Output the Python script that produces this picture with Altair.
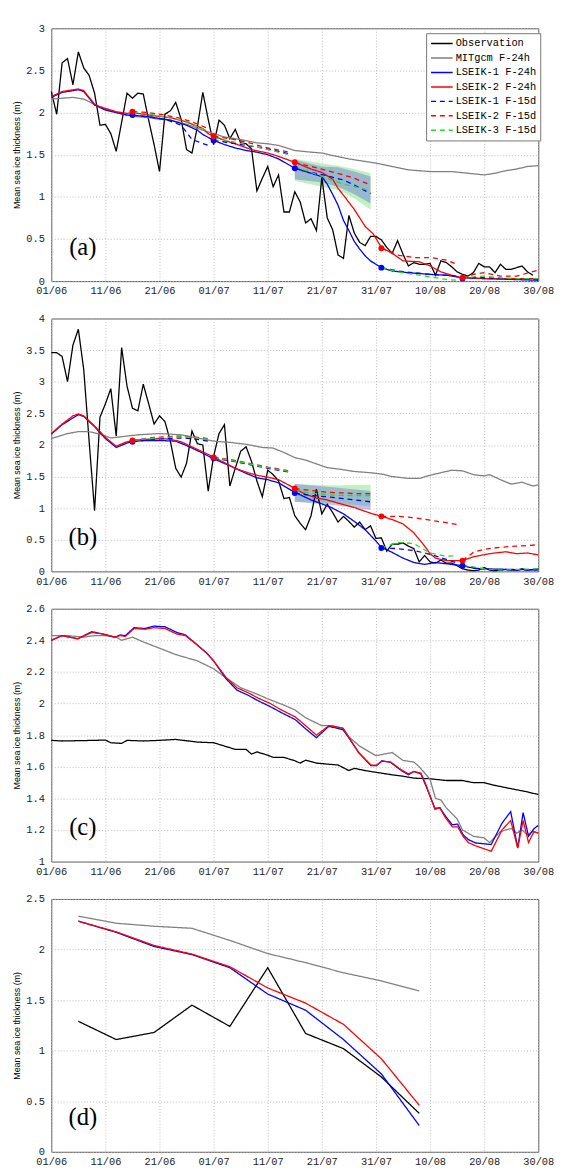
import altair as alt
import pandas as pd

SERIES = ["Observation", "MITgcm F-24h", "LSEIK-1 F-24h", "LSEIK-2 F-24h",
          "LSEIK-1 F-15d", "LSEIK-2 F-15d", "LSEIK-3 F-15d"]
COLORS = ["#000000", "#808080", "#0000ff", "#ff0000", "#0000ff", "#ff0000", "#22dd22"]
DASHES = [[1, 0], [1, 0], [1, 0], [1, 0], [5, 4], [5, 4], [5, 4]]

TICK_DAYS = [0, 10, 20, 30, 40, 50, 60, 70, 80, 90]
TICK_LABELS = ["01/06", "11/06", "21/06", "01/07", "11/07", "21/07", "31/07", "10/08", "20/08", "30/08"]
YTITLE = "Mean sea ice thickness (m)"
PANEL_LABELS = ["(a)", "(b)", "(c)", "(d)"]

# ---------------- panel (a) ----------------
A_OBS_DAY = [0, 1, 2, 3, 4, 5, 6, 7, 8, 9, 10, 11, 12, 14, 15, 16, 17, 18, 19,
             20, 21, 22, 23, 24, 25, 26, 27, 28, 29, 30, 31, 32, 33, 34, 35, 36, 37, 38, 39,
             40, 41, 42, 43, 44, 45, 46, 47, 48, 49, 50, 51, 52, 53, 54, 55, 56, 57, 58, 59,
             60, 61, 62, 63, 64, 65, 66, 67, 68, 69, 70, 71, 72, 73, 74, 75, 76, 77, 78, 79,
             80, 81, 82, 83, 84, 85, 86, 87, 88, 89]
A_OBS = [2.25, 1.98, 2.59, 2.64, 2.33, 2.72, 2.53, 2.44, 2.23, 1.85,
         1.86, 1.75, 1.54,
         2.23, 2.17, 2.23, 2.22, 1.91, 1.62,
         1.30, 1.98, 2.02, 2.12, 1.92, 1.56, 1.52, 1.83, 2.24, 1.92,
         1.62, 1.91, 1.85, 1.69, 1.80, 1.64, 1.63, 1.57, 1.07, 1.22,
         1.36, 1.12, 1.26, 0.82, 0.82, 1.06, 0.94, 0.69, 0.74, 0.60,
         1.23, 0.75, 0.61, 0.31, 0.27, 0.78, 0.57, 0.46, 0.42, 0.53,
         0.53, 0.49, 0.40, 0.33, 0.48, 0.32, 0.18, 0.22, 0.20, 0.20,
         0.21, 0.07, 0.24, 0.22, 0.17, 0.11, 0.08, 0.06, 0.10, 0.21,
         0.17, 0.17, 0.10, 0.20, 0.14, 0.14, 0.16, 0.18, 0.11, 0.07]
A_MIT_DAY = [0, 2, 4, 6, 7, 8, 10, 12, 14, 16, 18, 20, 22, 24, 26, 28, 30, 32, 35, 38,
             40, 42, 45, 48, 50, 52, 55, 58, 60, 63, 66, 70, 74, 77, 80, 82, 84, 86, 88, 90]
A_MIT = [2.16, 2.17, 2.18, 2.16, 2.13, 2.09, 2.04, 2.00, 1.97, 1.95, 1.94, 1.92, 1.91, 1.88, 1.84,
         1.79, 1.75, 1.71, 1.68, 1.64, 1.63, 1.61, 1.55, 1.53, 1.52, 1.49, 1.45, 1.42, 1.40, 1.36,
         1.32, 1.30, 1.30, 1.28, 1.26, 1.28, 1.31, 1.33, 1.36, 1.37]
A_L1_DAY = [0, 2, 5, 6, 7, 8, 10, 12, 14, 15, 18, 22, 25, 27, 28, 30, 32, 34, 36, 38,
            40, 42, 45, 48, 50, 51, 52, 53, 54, 55, 56, 57, 58, 59, 61, 63, 66, 70, 73, 76,
            80, 85, 90]
A_L1 = [2.18, 2.24, 2.27, 2.25, 2.17, 2.09, 2.03, 2.00, 1.97, 1.97, 1.95, 1.91, 1.85, 1.79, 1.74,
        1.67, 1.62, 1.58, 1.55, 1.53, 1.50, 1.45, 1.34, 1.28, 1.24, 1.15, 1.03, 0.90, 0.72, 0.60,
        0.47, 0.38, 0.30, 0.24, 0.16, 0.12, 0.10, 0.08, 0.07, 0.04, 0.03, 0.02, 0.01]
A_L2_DAY = [0, 2, 4, 5, 6, 7, 8, 9, 10, 12, 14, 15, 18, 22, 25, 28, 29, 30, 32, 34,
            37, 40, 42, 45, 48, 50, 52, 53, 54, 56, 58, 59.5, 61, 63, 65, 68, 70, 72, 75, 76,
            80, 85, 90]
A_L2 = [2.19, 2.25, 2.27, 2.28, 2.26, 2.18, 2.10, 2.07, 2.05, 2.01, 1.99, 2.00, 1.97, 1.94, 1.89,
        1.81, 1.75, 1.72, 1.67, 1.63, 1.56, 1.52, 1.48, 1.41, 1.33, 1.29, 1.21, 1.10, 1.02, 0.85,
        0.65, 0.56, 0.40, 0.33, 0.24, 0.23, 0.18, 0.11, 0.05, 0.04, 0.03, 0.03, 0.03]

# 15-day forecasts: days and segment ids shared by both panels (a) and (b)
FC_DAY = [15, 18, 21, 24, 26, 29, 30, 33, 36, 40, 44, 45, 48, 51, 54, 56, 59,
          61, 64, 67, 70, 73, 75, 76, 78, 80, 83, 86, 90]
FC_SEG = [1, 1, 1, 1, 1, 1, 2, 2, 2, 2, 2, 3, 3, 3, 3, 3, 3,
          4, 4, 4, 4, 4, 4, 5, 5, 5, 5, 5, 5]
A_F1 = [1.97, 1.95, 1.92, 1.85, 1.68, 1.61, 1.67, 1.64, 1.61, 1.57, 1.51,
        1.34, 1.29, 1.25, 1.20, 1.14, 1.04, 0.16, 0.12, 0.10, 0.08, 0.07, 0.06,
        0.03, 0.04, 0.04, 0.03, 0.02, 0.02]
A_F2 = [2.01, 2.00, 1.97, 1.93, 1.89, 1.81, 1.72, 1.69, 1.65, 1.58, 1.53,
        1.41, 1.36, 1.31, 1.26, 1.22, 1.14, 0.39, 0.31, 0.28, 0.28, 0.25, 0.20,
        0.04, 0.08, 0.10, 0.06, 0.06, 0.13]
A_F3 = [2.00, 1.98, 1.95, 1.91, 1.86, 1.78, 1.70, 1.66, 1.62, 1.56, 1.50,
        1.36, 1.29, 1.22, 1.15, 1.12, 1.07, 0.16, 0.11, 0.08, 0.05, 0.02, 0.01,
        0.03, 0.05, 0.06, 0.04, 0.03, 0.03]
A_BAND_DAY = [45, 50, 53, 56, 59]
A_BAND_B_LO = [1.21, 1.17, 1.12, 1.03, 0.92]
A_BAND_B_HI = [1.44, 1.36, 1.35, 1.30, 1.24]
A_BAND_G_LO = [1.19, 1.12, 1.08, 0.98, 0.85]
A_BAND_G_HI = [1.45, 1.40, 1.37, 1.33, 1.28]
MK_DAY = [15, 30, 45, 61, 76]
A_MK_RED = [2.01, 1.72, 1.41, 0.39, 0.04]
A_MK_BLUE = [1.97, 1.67, 1.34, 0.16, 0.03]

# ---------------- panel (b) ----------------
B_OBS_DAY = list(range(0, 91))
B_OBS = [3.46, 3.46, 3.40, 3.00, 3.58, 3.83, 3.19, 2.05, 0.96, 2.44,
         2.65, 2.89, 2.14, 3.54, 2.93, 2.58, 2.54, 2.96, 2.65, 2.33,
         2.46, 2.37, 2.06, 1.63, 1.49, 1.71, 2.22, 2.02, 2.00, 1.27,
         1.82, 2.18, 2.32, 1.35, 1.63, 1.90, 1.97, 1.74, 1.43, 1.18,
         1.60, 1.53, 1.43, 1.15, 1.17, 0.88, 0.76, 0.66, 0.88, 1.30,
         0.91, 1.06, 0.93, 0.78, 0.87, 0.79, 0.70, 0.78, 0.66, 0.72,
         0.52, 0.53, 0.32, 0.43, 0.43, 0.45, 0.40, 0.36, 0.15, 0.25,
         0.15, 0.13, 0.18, 0.13, 0.13, 0.09, 0.04, 0.02, 0.01, 0.02,
         0.06, 0.02, 0.01, 0.02, 0.03, 0.02, 0.02, 0.04, 0.02, 0.03,
         0.04]
B_MIT_DAY = [0, 3, 5, 7, 9, 11, 13, 16, 20, 24, 27, 30, 33, 36, 39, 41, 43, 45, 47, 49,
             51, 53, 56, 59, 61, 63, 66, 68, 70, 72, 74, 76, 78, 80, 81, 83, 85, 87, 89, 90]
B_MIT = [2.10, 2.18, 2.21, 2.21, 2.17, 2.11, 2.13, 2.16, 2.18, 2.16, 2.11, 2.06, 2.04, 2.01, 1.96,
         1.95, 1.88, 1.80, 1.76, 1.70, 1.64, 1.62, 1.58, 1.56, 1.54, 1.50, 1.47, 1.47, 1.52, 1.56,
         1.60, 1.59, 1.53, 1.51, 1.53, 1.45, 1.38, 1.41, 1.35, 1.37]
B_L1_DAY = [0, 2, 5, 6, 8, 10, 12, 14, 15, 17, 20, 23, 25, 28, 30, 33, 36, 38, 40, 42,
            45, 48, 51.5, 54, 56, 58, 60, 61, 63, 65, 67, 69, 71, 73, 76, 78, 80, 85, 90]
B_L1 = [2.17, 2.32, 2.48, 2.45, 2.29, 2.10, 1.96, 2.03, 2.05, 2.07, 2.07, 2.06, 1.99, 1.87, 1.78,
        1.67, 1.55, 1.48, 1.45, 1.40, 1.25, 1.13, 1.02, 0.91, 0.79, 0.66, 0.48, 0.38, 0.30, 0.21,
        0.14, 0.11, 0.14, 0.12, 0.09, 0.05, 0.04, 0.03, 0.02]
B_L2_DAY = [0, 2, 4, 5, 6, 8, 10, 12, 14, 16, 18, 20, 22, 24, 26, 28, 30, 32, 34, 36,
            38, 40, 42, 44, 45, 47, 49, 51, 53, 56, 59, 61, 63, 65, 67, 69, 70, 71, 73, 76,
            78, 81, 84, 86, 88, 90]
B_L2 = [2.18, 2.33, 2.46, 2.49, 2.46, 2.30, 2.12, 1.98, 2.05, 2.08, 2.09, 2.10, 2.09, 2.05, 1.97,
        1.89, 1.81, 1.72, 1.63, 1.57, 1.52, 1.49, 1.45, 1.36, 1.31, 1.22, 1.16, 1.13, 1.08, 1.01,
        0.92, 0.87, 0.82, 0.75, 0.61, 0.40, 0.28, 0.21, 0.17, 0.17, 0.23, 0.28, 0.31, 0.28, 0.29,
        0.26]
B_F1 = [2.05, 2.08, 2.10, 2.11, 2.10, 2.06, 1.79, 1.75, 1.70, 1.63, 1.57,
        1.24, 1.20, 1.18, 1.15, 1.13, 1.10, 0.37, 0.36, 0.33, 0.27, 0.19, 0.13,
        0.09, 0.06, 0.04, 0.02, 0.02, 0.03]
B_F2 = [2.07, 2.11, 2.13, 2.14, 2.13, 2.10, 1.81, 1.77, 1.72, 1.65, 1.59,
        1.31, 1.28, 1.25, 1.24, 1.23, 1.23, 0.87, 0.87, 0.85, 0.81, 0.77, 0.74,
        0.17, 0.30, 0.35, 0.38, 0.40, 0.42]
B_F3 = [2.07, 2.10, 2.12, 2.13, 2.12, 2.09, 1.80, 1.76, 1.71, 1.64, 1.58,
        1.28, 1.24, 1.21, 1.20, 1.20, 1.20, 0.37, 0.46, 0.44, 0.29, 0.24, 0.25,
        0.09, 0.07, 0.04, 0.02, 0.03, 0.04]
B_BAND_DAY = [45, 52, 59]
B_BAND_B_LO = [1.10, 1.05, 0.97]
B_BAND_B_HI = [1.38, 1.33, 1.27]
B_BAND_G_LO = [1.10, 1.08, 1.03]
B_BAND_G_HI = [1.38, 1.36, 1.37]
B_MK_RED = [2.07, 1.80, 1.31, 0.87, 0.17]
B_MK_BLUE = [2.05, 1.79, 1.24, 0.37, 0.09]

# ---------------- panel (c) ----------------
C_OBS_DAY = [0, 2, 8, 10, 11, 13, 14, 17, 20, 23, 27, 30, 32, 34, 36, 37, 38, 40, 41, 43,
             45, 46, 47, 49, 51, 53, 55, 56, 58, 60, 63, 65, 67, 70, 73, 76, 78, 80, 82, 85,
             88, 90]
C_OBS = [1.767, 1.763, 1.767, 1.769, 1.752, 1.748, 1.767, 1.763, 1.767, 1.773, 1.756, 1.752,
         1.731, 1.710, 1.710, 1.680, 1.694, 1.673, 1.659, 1.659, 1.638, 1.623, 1.642, 1.623,
         1.617, 1.611, 1.576, 1.590, 1.576, 1.565, 1.549, 1.540, 1.528, 1.524, 1.513, 1.513,
         1.499, 1.499, 1.482, 1.461, 1.441, 1.424]
C_MIT_DAY = [0, 3, 6, 8, 10, 12, 13, 15, 17, 20, 23, 25, 27, 30, 32, 35, 38, 40, 43, 45,
             47, 50, 52, 54, 55, 57, 59, 60, 63, 65, 67, 68, 70, 71, 72, 73, 75, 76, 78, 80,
             81, 83, 85, 86, 87, 88, 89, 90]
C_MIT = [2.43, 2.43, 2.42, 2.43, 2.43, 2.42, 2.40, 2.42, 2.39, 2.35, 2.31, 2.29, 2.27, 2.22,
         2.17, 2.10, 2.06, 2.03, 1.99, 1.96, 1.91, 1.86, 1.86, 1.84, 1.79, 1.73, 1.69, 1.67,
         1.69, 1.64, 1.63, 1.60, 1.52, 1.40, 1.39, 1.34, 1.27, 1.20, 1.16, 1.15, 1.12, 1.19,
         1.21, 1.18, 1.20, 1.17, 1.19, 1.18]
C_LS_DAY = [0, 2, 4.9, 7.5, 9.5, 11.8, 12.7, 13.7, 15.3, 17.3, 18.9, 21, 23.2, 24.8, 26.8,
            28.7, 30, 32.3, 34.3, 36.3, 38.2, 40.5, 42.5, 45.1, 47, 49, 51.3, 53.9, 55.2, 56.8,
            59.1, 60.1, 61.1, 62.7, 64.7, 66, 67, 68.3, 69.2, 70.9, 71.8, 72.8, 74.1, 75.1,
            76.1, 77.1, 78.4, 81.3, 83.3, 84.9, 86.2, 87.2, 88.2, 89.2, 90]
C_L1 = [2.40, 2.43, 2.41, 2.455, 2.44, 2.42, 2.434, 2.43, 2.48, 2.475, 2.49, 2.486, 2.45,
        2.434, 2.376, 2.32, 2.27, 2.157, 2.085, 2.054, 2.018, 1.98, 1.943, 1.898, 1.84, 1.784,
        1.856, 1.835, 1.773, 1.69, 1.607, 1.607, 1.638, 1.628, 1.576, 1.55, 1.57, 1.555, 1.482,
        1.337, 1.341, 1.29, 1.233, 1.237, 1.17, 1.139, 1.118, 1.108, 1.243, 1.316, 1.087, 1.31,
        1.16, 1.208, 1.229]
C_L2 = [2.40, 2.43, 2.41, 2.45, 2.44, 2.42, 2.43, 2.425, 2.475, 2.47, 2.48, 2.475, 2.44,
        2.43, 2.375, 2.32, 2.27, 2.165, 2.10, 2.07, 2.035, 2.00, 1.96, 1.915, 1.86, 1.80,
        1.86, 1.845, 1.775, 1.69, 1.61, 1.61, 1.635, 1.63, 1.58, 1.555, 1.57, 1.56, 1.49,
        1.33, 1.34, 1.28, 1.22, 1.22, 1.16, 1.12, 1.10, 1.065, 1.20, 1.26, 1.085, 1.26,
        1.12, 1.19, 1.18]

# ---------------- panel (d) ----------------
D_DAY = [5, 12, 19, 26, 33, 40, 47, 54, 61, 68]
D_OBS = [1.29, 1.11, 1.18, 1.45, 1.24, 1.82, 1.17, 1.02, 0.74, 0.38]
D_MIT = [2.33, 2.26, 2.23, 2.21, 2.09, 1.96, 1.87, 1.77, 1.69, 1.59]
D_L1 = [2.28, 2.17, 2.03, 1.95, 1.82, 1.56, 1.40, 1.11, 0.77, 0.26]
D_L2 = [2.28, 2.175, 2.04, 1.955, 1.83, 1.62, 1.47, 1.26, 0.92, 0.46]

LABEL_EXPR = "[" + ",".join("'%s'" % t for t in TICK_LABELS) + "][round(datum.value / 10)]"


def lines_frame(solid, forecasts):
    rows = []
    for name, days, vals in solid:
        for d, v in zip(days, vals):
            rows.append({"series": name, "seg": name, "day": d, "value": v})
    for name, vals in forecasts:
        for d, s, v in zip(FC_DAY, FC_SEG, vals):
            rows.append({"series": name, "seg": "%s-%d" % (name, s), "day": d, "value": v})
    return pd.DataFrame(rows)


def band_frame(days, lo, hi):
    return pd.DataFrame({"day": days, "lo": lo, "hi": hi})


def build_panel(df, ydom, yvals, label, legend=False, bands=(), markers=()):
    xs = alt.Scale(domain=[0, 90], nice=False, zero=False)
    ys = alt.Scale(domain=ydom, nice=False, zero=False)
    xa = alt.Axis(values=TICK_DAYS, labelExpr=LABEL_EXPR, title=None)
    ya = alt.Axis(values=yvals, format=".1~f", title=YTITLE)
    layers = []
    for bdf, col, op in bands:
        layers.append(alt.Chart(bdf).mark_area(color=col, opacity=op).encode(
            x=alt.X("day:Q", scale=xs, axis=xa),
            y=alt.Y("lo:Q", scale=ys, axis=ya),
            y2="hi:Q"))
    if legend:
        lg = alt.Legend(orient="none", legendX=381, legendY=5, title=None,
                        symbolType="M-2,0H2", symbolSize=121, symbolStrokeWidth=1.5,
                        symbolOffset=5.5, labelOffset=7.5,
                        labelFont="Liberation Mono", labelFontSize=10.5, labelColor="#000",
                        rowPadding=2.7, padding=4, fillColor="white", strokeColor="#777",
                        labelLimit=200)
    else:
        lg = None
    layers.append(alt.Chart(df).mark_line(strokeWidth=1.3).encode(
        x=alt.X("day:Q", scale=xs, axis=xa),
        y=alt.Y("value:Q", scale=ys, axis=ya),
        color=alt.Color("series:N", scale=alt.Scale(domain=SERIES, range=COLORS), legend=lg),
        strokeDash=alt.StrokeDash("series:N", scale=alt.Scale(domain=SERIES, range=DASHES), legend=lg),
        detail="seg:N"))
    for mdf, col in markers:
        layers.append(alt.Chart(mdf).mark_point(filled=True, size=36, opacity=1, color=col).encode(
            x=alt.X("day:Q", scale=xs, axis=xa),
            y=alt.Y("value:Q", scale=ys, axis=ya)))
    layers.append(alt.Chart(pd.DataFrame({"label": [label]})).mark_text(
        font="Liberation Serif", fontSize=25, color="#000", align="center", baseline="middle").encode(
        text="label:N", x=alt.value(32), y=alt.value(222)))
    return alt.layer(*layers).properties(width=495, height=257)


pa_df = lines_frame(
    [("Observation", A_OBS_DAY, A_OBS), ("MITgcm F-24h", A_MIT_DAY, A_MIT),
     ("LSEIK-1 F-24h", A_L1_DAY, A_L1), ("LSEIK-2 F-24h", A_L2_DAY, A_L2)],
    [("LSEIK-1 F-15d", A_F1), ("LSEIK-2 F-15d", A_F2), ("LSEIK-3 F-15d", A_F3)])
pb_df = lines_frame(
    [("Observation", B_OBS_DAY, B_OBS), ("MITgcm F-24h", B_MIT_DAY, B_MIT),
     ("LSEIK-1 F-24h", B_L1_DAY, B_L1), ("LSEIK-2 F-24h", B_L2_DAY, B_L2)],
    [("LSEIK-1 F-15d", B_F1), ("LSEIK-2 F-15d", B_F2), ("LSEIK-3 F-15d", B_F3)])
pc_df = lines_frame(
    [("Observation", C_OBS_DAY, C_OBS), ("MITgcm F-24h", C_MIT_DAY, C_MIT),
     ("LSEIK-1 F-24h", C_LS_DAY, C_L1), ("LSEIK-2 F-24h", C_LS_DAY, C_L2)], [])
pd_df = lines_frame(
    [("Observation", D_DAY, D_OBS), ("MITgcm F-24h", D_DAY, D_MIT),
     ("LSEIK-1 F-24h", D_DAY, D_L1), ("LSEIK-2 F-24h", D_DAY, D_L2)], [])

GREEN_BAND = "#b4f0b4"
BLUE_BAND = "#6a70dc"

panel_a = build_panel(
    pa_df, [0, 3], [0, 0.5, 1, 1.5, 2, 2.5, 3], PANEL_LABELS[0], legend=True,
    bands=[(band_frame(A_BAND_DAY, A_BAND_G_LO, A_BAND_G_HI), GREEN_BAND, 0.85),
           (band_frame(A_BAND_DAY, A_BAND_B_LO, A_BAND_B_HI), BLUE_BAND, 0.45)],
    markers=[(pd.DataFrame({"day": MK_DAY, "value": A_MK_BLUE}), "#0000ff"),
             (pd.DataFrame({"day": MK_DAY, "value": A_MK_RED}), "#ff0000")])
panel_b = build_panel(
    pb_df, [0, 4], [0, 0.5, 1, 1.5, 2, 2.5, 3, 3.5, 4], PANEL_LABELS[1],
    bands=[(band_frame(B_BAND_DAY, B_BAND_G_LO, B_BAND_G_HI), GREEN_BAND, 0.85),
           (band_frame(B_BAND_DAY, B_BAND_B_LO, B_BAND_B_HI), BLUE_BAND, 0.42)],
    markers=[(pd.DataFrame({"day": MK_DAY, "value": B_MK_BLUE}), "#0000ff"),
             (pd.DataFrame({"day": MK_DAY, "value": B_MK_RED}), "#ff0000")])
panel_c = build_panel(pc_df, [1, 2.6], [1, 1.2, 1.4, 1.6, 1.8, 2, 2.2, 2.4, 2.6], PANEL_LABELS[2])
panel_d = build_panel(pd_df, [0, 2.5], [0, 0.5, 1, 1.5, 2, 2.5], PANEL_LABELS[3])

chart = alt.vconcat(panel_a, panel_b, panel_c, panel_d, spacing=38, bounds="flush").resolve_scale(
    color="independent", strokeDash="independent"
).properties(
    padding={"left": 4, "top": 5, "right": 0, "bottom": 0}
).configure_view(
    stroke="#555", strokeWidth=1
).configure_axis(
    labelFont="Liberation Mono", labelFontSize=10.5, labelColor="#222",
    ticks=False, tickSize=0, domain=False, labelFlush=False,
    grid=True, gridColor="#bdbdbd", gridDash=[1, 2], gridWidth=1, gridOpacity=1,
    titleFont="Liberation Sans", titleFontSize=9, titleFontWeight="normal", titleColor="#000"
).configure_axisX(
    labelPadding=5
).configure_axisY(
    labelPadding=7, titlePadding=4
)

chart.save("out.html", embed_options={"renderer": "svg", "actions": False})
